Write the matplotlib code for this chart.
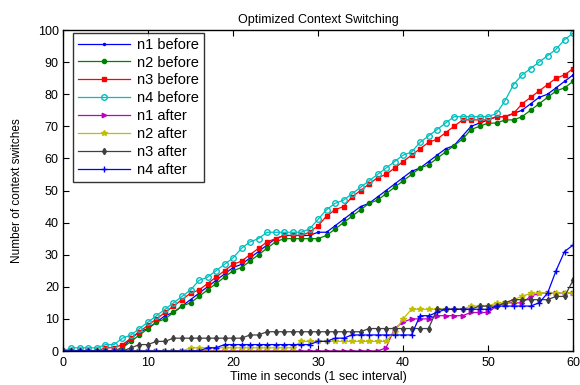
import numpy as np
import matplotlib
matplotlib.use('Agg')
import matplotlib.pyplot as plt

plt.rcParams['font.family'] = ['Liberation Sans', 'DejaVu Sans']

seconds = list(range(0, 61))

# context switches per second
n1_before = [0, 0, 0, 0, 0, 0, 0, 1, 4, 6, 7, 9, 11, 12, 14, 16, 18, 20, 22, 24, 26, 27, 29, 31, 33, 35, 36, 36, 36, 36,
             37, 37, 39, 41, 43, 45, 46, 48, 50, 52, 54, 56, 57, 59, 61, 63, 64, 67, 70, 71, 72, 73, 73, 74, 75, 77, 79, 80, 82, 84, 86]
n2_before = [0, 0, 0, 0, 0, 0, 0, 1, 3, 5, 7, 9, 10, 12, 14, 15, 17, 19, 21, 23, 25, 26, 28, 30, 32, 34, 35, 35, 35, 35,
             35, 36, 38, 40, 42, 44, 46, 47, 49, 51, 53, 55, 57, 58, 60, 62, 64, 66, 69, 70, 71, 71, 72, 72, 73, 75, 77, 79, 81, 82, 84]
n3_before = [0, 0, 0, 0, 0, 1, 1, 2, 4, 6, 8, 10, 12, 14, 16, 18, 19, 21, 23, 25, 27, 28, 30, 32, 34, 35, 36, 36, 36, 37,
             39, 42, 44, 45, 48, 50, 52, 54, 55, 57, 59, 61, 63, 65, 66, 68, 70, 72, 72, 72, 72, 73, 73, 74, 77, 79, 81, 83, 85, 86, 88]
n4_before = [0, 1, 1, 1, 1, 2, 2, 4, 5, 7, 9, 11, 13, 15, 17, 19, 22, 23, 25, 27, 29, 32, 34, 35, 37, 37, 37, 37, 37, 38,
             41, 44, 46, 47, 49, 51, 53, 55, 57, 59, 61, 62, 65, 67, 69, 71, 73, 73, 73, 73, 73, 74, 78, 83, 86, 88, 90, 92, 94, 97, 99]
n1_after = [0] * 38 + [1, 7, 9, 10, 10, 10, 11, 11, 11, 11, 12, 12, 12, 14, 15, 15, 15, 17, 18, 18, 18, 18, 18]
n2_after = [0] * 15 + [1] * 13 + [3] * 11 + [6, 10, 13, 13, 13, 13, 13, 13, 13, 14, 14, 14, 15, 15, 16, 17, 18, 18, 18, 18, 18, 18]
n3_after = [0, 0, 0, 0, 0, 0, 0, 0, 1, 2, 2, 3, 3] + [4] * 9 + [5, 5] + [6] * 12 + [7] * 8 + \
           [13, 13, 13, 13, 13, 14, 14, 14, 15, 16, 16, 16, 16, 16, 17, 17, 22]
n4_after = [0] * 17 + [1, 1] + [2] * 11 + [3, 3, 4, 4] + [5] * 8 + \
           [11, 11, 12, 13, 13, 13, 13, 13, 13, 14, 14, 14, 14, 14, 15, 18, 25, 31, 33]

fig = plt.figure(figsize=(5.8, 3.85), dpi=100)
ax = fig.add_axes([0.1086, 0.0883, 0.8794, 0.8337])

lw = 0.9
ax.plot(seconds, n1_before, '-', color=(0, 0, 1), marker='.', markersize=3, linewidth=lw, label='n1 before')
ax.plot(seconds, n2_before, '-', color=(0, 0.5, 0), marker='o', markersize=3, linewidth=lw, label='n2 before')
ax.plot(seconds, n3_before, '-', color=(1, 0, 0), marker='s', markersize=2.5, linewidth=lw, label='n3 before')
ax.plot(seconds, n4_before, '-', color=(0, 0.75, 0.75), marker='o', markersize=4, markerfacecolor='none',
        linewidth=lw, label='n4 before')
ax.plot(seconds, n1_after, '-', color=(0.75, 0, 0.75), marker='>', markersize=3.2, linewidth=lw, label='n1 after')
ax.plot(seconds, n2_after, '-', color=(0.75, 0.75, 0), marker='*', markersize=3.8, linewidth=lw, label='n2 after')
ax.plot(seconds, n3_after, '-', color=(0.25, 0.25, 0.25), marker='d', markersize=3.2, linewidth=lw, label='n3 after')
ax.plot(seconds, n4_after, '-', color=(0, 0, 1), marker='+', markersize=5, linewidth=lw, label='n4 after')

ax.set_xlim(0, 60)
ax.set_ylim(0, 100)
ax.set_xticks(range(0, 61, 10))
ax.set_yticks(range(0, 101, 10))
ax.tick_params(axis='both', direction='in', top=True, right=True, length=4, labelsize=9)
ax.tick_params(axis='x', pad=4)
ax.tick_params(axis='y', pad=3)
for s in ax.spines.values():
    s.set_linewidth(1)

ax.set_title('Optimized Context Switching', fontsize=9, pad=5)
ax.set_xlabel('Time in seconds (1 sec interval)', fontsize=9, labelpad=2)
ax.set_ylabel('Number of context switches', fontsize=8.5, labelpad=11)

leg = ax.legend(loc='upper left', fontsize=10.5, handlelength=3.6, frameon=True, fancybox=False,
                edgecolor='black', borderpad=0.3, labelspacing=0.27, handletextpad=0.5,
                borderaxespad=0, bbox_to_anchor=(0.02, 0.99))
leg.get_frame().set_linewidth(1)

fig.savefig('out.png', dpi=100, facecolor='white')
